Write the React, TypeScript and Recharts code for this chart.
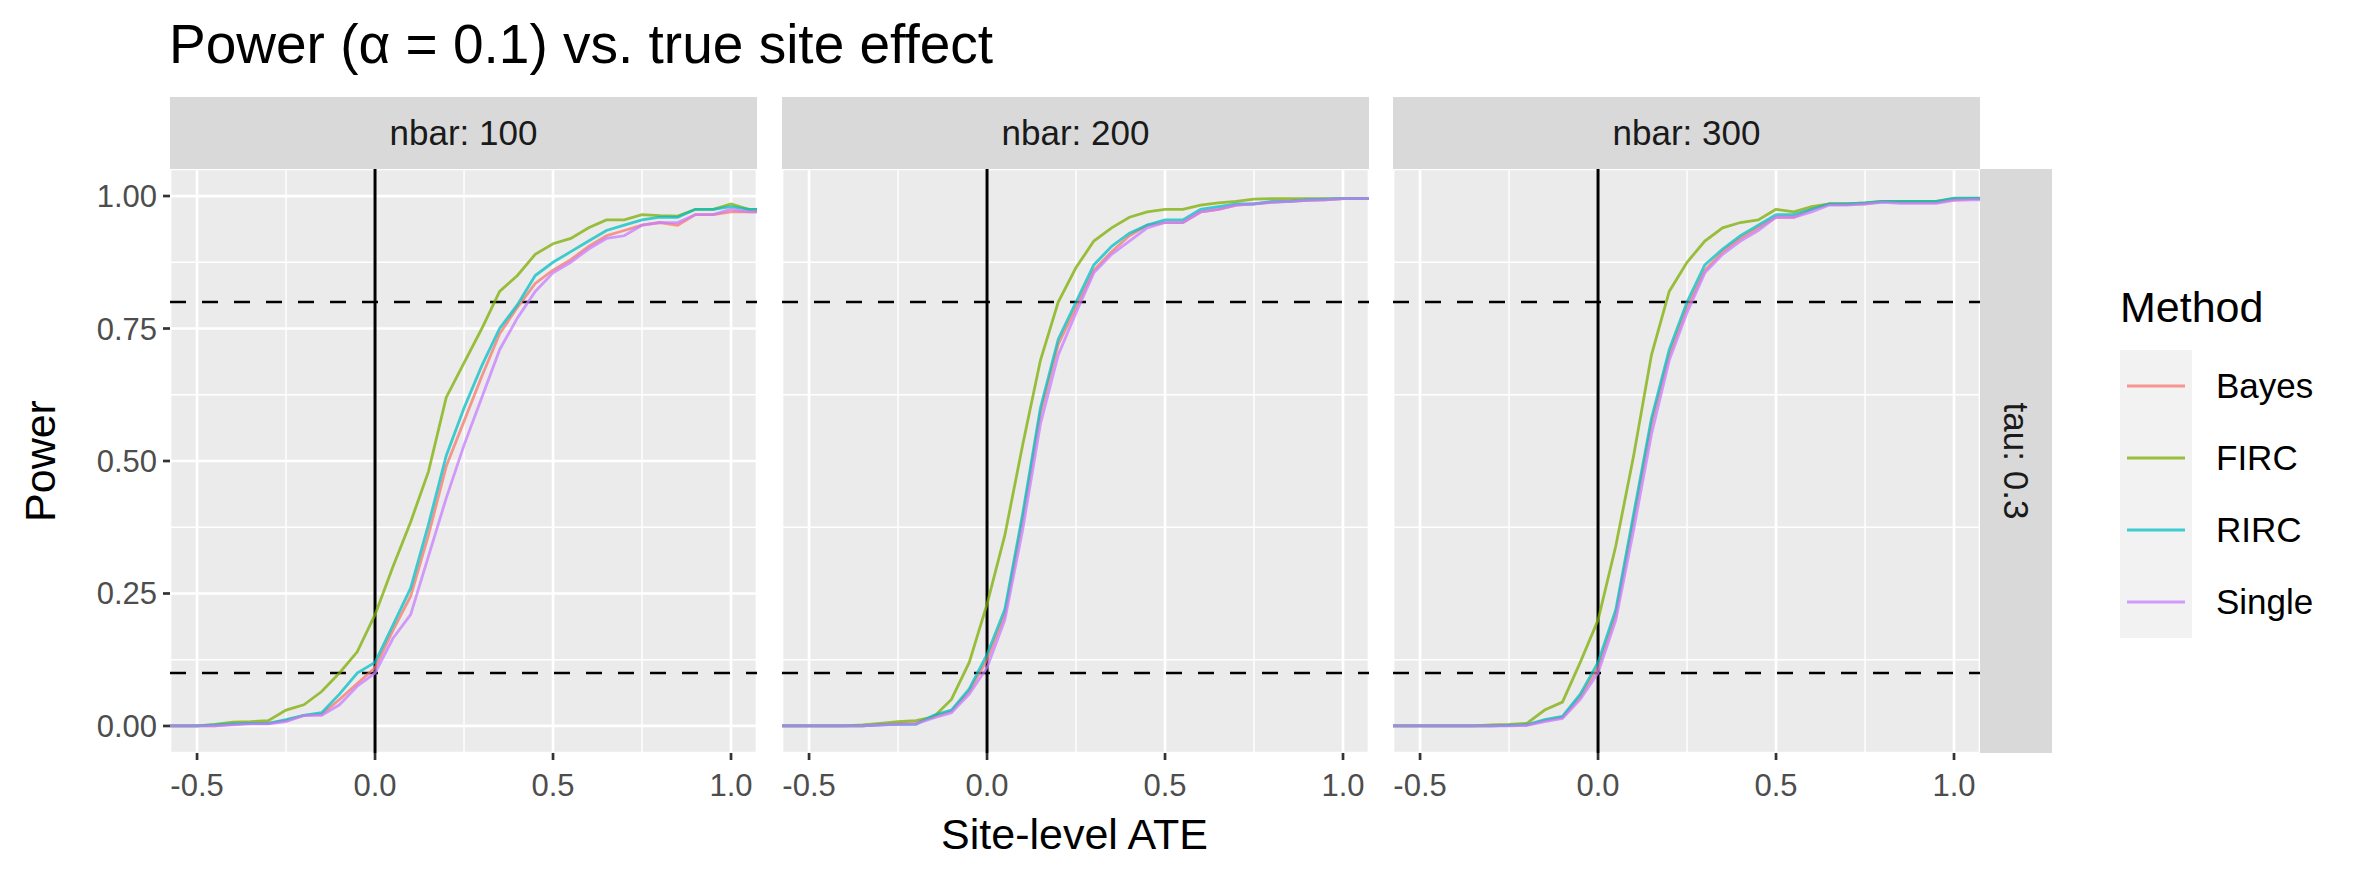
import React from 'react';
import { LineChart, Line, XAxis, YAxis, CartesianGrid, ReferenceLine } from 'recharts';

const ate = [-0.6, -0.55, -0.5, -0.45, -0.4, -0.35, -0.3, -0.25, -0.2, -0.15, -0.1, -0.05, 0, 0.05, 0.1, 0.15, 0.2, 0.25, 0.3, 0.35, 0.4, 0.45, 0.5, 0.55, 0.6, 0.65, 0.7, 0.75, 0.8, 0.85, 0.9, 0.95, 1.0, 1.05, 1.1];

const methods = ['Bayes', 'FIRC', 'RIRC', 'Single'];
const colors: Record<string, string> = { Bayes: '#F8766D', FIRC: '#7CAE00', RIRC: '#00BFC4', Single: '#C77CFF' };
const panelLabels = ['nbar: 100', 'nbar: 200', 'nbar: 300'];

// power per method, panel nbar 100
const bayes100 = [0, 0, 0, 0, 0.003, 0.005, 0.005, 0.01, 0.02, 0.022, 0.05, 0.08, 0.11, 0.18, 0.245, 0.36, 0.49, 0.575, 0.66, 0.74, 0.79, 0.835, 0.86, 0.88, 0.905, 0.925, 0.935, 0.945, 0.95, 0.945, 0.965, 0.965, 0.97, 0.97, 0.97];
const firc100 = [0, 0, 0, 0.003, 0.007, 0.008, 0.01, 0.03, 0.04, 0.065, 0.1, 0.14, 0.21, 0.3, 0.385, 0.48, 0.62, 0.685, 0.75, 0.82, 0.85, 0.89, 0.91, 0.92, 0.94, 0.955, 0.955, 0.965, 0.963, 0.962, 0.975, 0.975, 0.985, 0.975, 0.975];
const rirc100 = [0, 0, 0, 0.002, 0.004, 0.005, 0.005, 0.012, 0.02, 0.025, 0.06, 0.1, 0.12, 0.19, 0.26, 0.38, 0.51, 0.6, 0.68, 0.75, 0.795, 0.85, 0.875, 0.895, 0.915, 0.935, 0.945, 0.955, 0.96, 0.96, 0.975, 0.975, 0.98, 0.975, 0.975];
const single100 = [0, 0, 0, 0, 0.002, 0.004, 0.004, 0.008, 0.02, 0.02, 0.04, 0.075, 0.1, 0.165, 0.21, 0.32, 0.43, 0.53, 0.62, 0.71, 0.77, 0.82, 0.855, 0.875, 0.9, 0.92, 0.925, 0.945, 0.95, 0.95, 0.965, 0.965, 0.975, 0.97, 0.97];

// panel nbar 200
const bayes200 = [0, 0, 0, 0, 0, 0, 0.002, 0.004, 0.005, 0.018, 0.028, 0.065, 0.125, 0.21, 0.39, 0.59, 0.72, 0.79, 0.86, 0.895, 0.925, 0.945, 0.95, 0.95, 0.97, 0.975, 0.983, 0.985, 0.988, 0.99, 0.992, 0.993, 0.995, 0.995, 0.995];
const firc200 = [0, 0, 0, 0, 0, 0.002, 0.005, 0.008, 0.01, 0.017, 0.05, 0.12, 0.23, 0.36, 0.53, 0.69, 0.8, 0.865, 0.915, 0.94, 0.96, 0.97, 0.975, 0.975, 0.983, 0.987, 0.99, 0.994, 0.995, 0.995, 0.995, 0.995, 0.995, 0.995, 0.995];
const rirc200 = [0, 0, 0, 0, 0, 0, 0.002, 0.003, 0.003, 0.02, 0.03, 0.07, 0.135, 0.22, 0.4, 0.6, 0.73, 0.8, 0.87, 0.905, 0.93, 0.945, 0.955, 0.955, 0.975, 0.98, 0.985, 0.985, 0.99, 0.99, 0.993, 0.994, 0.995, 0.995, 0.995];
const single200 = [0, 0, 0, 0, 0, 0, 0.002, 0.003, 0.004, 0.015, 0.025, 0.06, 0.11, 0.2, 0.37, 0.57, 0.7, 0.78, 0.855, 0.89, 0.915, 0.94, 0.95, 0.95, 0.97, 0.975, 0.983, 0.985, 0.988, 0.99, 0.992, 0.993, 0.995, 0.995, 0.995];

// panel nbar 300
const bayes300 = [0, 0, 0, 0, 0, 0, 0, 0.001, 0.002, 0.01, 0.016, 0.055, 0.11, 0.21, 0.39, 0.57, 0.7, 0.79, 0.86, 0.895, 0.92, 0.94, 0.96, 0.96, 0.975, 0.985, 0.985, 0.985, 0.99, 0.988, 0.988, 0.988, 0.993, 0.995, 0.995];
const firc300 = [0, 0, 0, 0, 0, 0, 0.002, 0.003, 0.005, 0.03, 0.045, 0.12, 0.2, 0.34, 0.51, 0.7, 0.82, 0.875, 0.915, 0.94, 0.95, 0.955, 0.975, 0.97, 0.98, 0.985, 0.985, 0.987, 0.99, 0.99, 0.99, 0.99, 0.995, 0.995, 0.995];
const rirc300 = [0, 0, 0, 0, 0, 0, 0, 0.001, 0.002, 0.012, 0.018, 0.06, 0.12, 0.22, 0.4, 0.58, 0.71, 0.8, 0.87, 0.9, 0.925, 0.945, 0.965, 0.965, 0.975, 0.985, 0.985, 0.987, 0.99, 0.99, 0.99, 0.99, 0.996, 0.996, 0.996];
const single300 = [0, 0, 0, 0, 0, 0, 0, 0, 0.001, 0.008, 0.014, 0.05, 0.1, 0.2, 0.37, 0.55, 0.69, 0.78, 0.855, 0.89, 0.915, 0.935, 0.96, 0.96, 0.97, 0.983, 0.983, 0.985, 0.988, 0.986, 0.986, 0.986, 0.992, 0.993, 0.993];

const panelSeries = [
  { Bayes: bayes100, FIRC: firc100, RIRC: rirc100, Single: single100 },
  { Bayes: bayes200, FIRC: firc200, RIRC: rirc200, Single: single200 },
  { Bayes: bayes300, FIRC: firc300, RIRC: rirc300, Single: single300 },
];

const xTicks = [-0.5, 0, 0.5, 1.0];
const yTicks = [0, 0.25, 0.5, 0.75, 1.0];
const xMinor = [-0.25, 0.25, 0.75];
const yMinor = [0.125, 0.375, 0.625, 0.875];

const font = '"Liberation Sans", Arial, sans-serif';
const panelLefts = [170, 782, 1393];
const panelW = 587;
const plotTop = 169;
const plotH = 584;

function Panel({ idx }: { idx: number }) {
  const s = panelSeries[idx] as Record<string, number[]>;
  const data = ate.map((x, i) => ({ x, Bayes: s.Bayes[i], FIRC: s.FIRC[i], RIRC: s.RIRC[i], Single: s.Single[i] }));
  const yw = idx === 0 ? 110 : 0;
  return (
    <div style={{ position: 'absolute', left: panelLefts[idx] - yw, top: plotTop }}>
      <LineChart width={panelW + yw} height={plotH + 80} data={data} margin={{ top: 0, right: 0, left: 0, bottom: 0 }}>
        <CartesianGrid stroke="#ffffff" strokeWidth={2.7} fill="#ebebeb" fillOpacity={1} />
        <XAxis
          dataKey="x" type="number" domain={[-0.576, 1.073]} allowDataOverflow ticks={xTicks}
          tickFormatter={(v: number) => v.toFixed(1)} height={80}
          tick={{ fill: '#4d4d4d', fontSize: 31, fontFamily: font, dy: 12 }}
          axisLine={false} tickLine={{ stroke: '#333333', strokeWidth: 2.7 }} tickSize={7}
        />
        <YAxis
          type="number" domain={[-0.051, 1.051]} allowDataOverflow ticks={yTicks} width={yw}
          tickFormatter={(v: number) => v.toFixed(2)}
          tick={idx === 0 ? { fill: '#4d4d4d', fontSize: 31, fontFamily: font, dx: -4 } : false}
          axisLine={false} tickLine={idx === 0 ? { stroke: '#333333', strokeWidth: 2.7 } : false} tickSize={7}
        />
        {xMinor.map((v) => <ReferenceLine key={'xm' + v} x={v} stroke="#ffffff" strokeWidth={1.4} />)}
        {yMinor.map((v) => <ReferenceLine key={'ym' + v} y={v} stroke="#ffffff" strokeWidth={1.4} />)}
        <ReferenceLine x={0} stroke="#000000" strokeWidth={3} />
        <ReferenceLine y={0.1} stroke="#000000" strokeWidth={2.7} strokeDasharray="16 16" />
        <ReferenceLine y={0.8} stroke="#000000" strokeWidth={2.7} strokeDasharray="16 16" />
        {methods.map((m) => (
          <Line key={m} dataKey={m} stroke={colors[m]} strokeOpacity={0.75} strokeWidth={2.8} dot={false} type="linear" isAnimationActive={false} />
        ))}
      </LineChart>
      <div style={{ position: 'absolute', left: yw, top: -72, width: panelW, height: 72, background: '#d9d9d9', color: '#1a1a1a', fontSize: 35, fontFamily: font, display: 'flex', alignItems: 'center', justifyContent: 'center' }}>
        {panelLabels[idx]}
      </div>
    </div>
  );
}

export default function App() {
  return (
    <div style={{ position: 'fixed', left: 0, top: 0, width: 2362, height: 885, background: '#ffffff', fontFamily: font, overflow: 'hidden' }}>
      <div style={{ position: 'absolute', left: 169, top: 12, fontSize: 55, color: '#000' }}>Power (α = 0.1) vs. true site effect</div>
      {[0, 1, 2].map((i) => <Panel key={i} idx={i} />)}
      <div style={{ position: 'absolute', left: 1980, top: plotTop, width: 72, height: plotH, background: '#d9d9d9', display: 'flex', alignItems: 'center', justifyContent: 'center' }}>
        <div style={{ transform: 'rotate(90deg)', whiteSpace: 'nowrap', fontSize: 35, color: '#1a1a1a' }}>tau: 0.3</div>
      </div>
      <div style={{ position: 'absolute', left: 0, top: 461, width: 82, display: 'flex', justifyContent: 'center' }}>
        <div style={{ transform: 'translateY(-50%) rotate(-90deg)', fontSize: 43, whiteSpace: 'nowrap' }}>Power</div>
      </div>
      <div style={{ position: 'absolute', left: 170, width: 1809, top: 810, textAlign: 'center', fontSize: 43 }}>Site-level ATE</div>
      <div style={{ position: 'absolute', left: 2120, top: 283, fontSize: 43 }}>Method</div>
      <div style={{ position: 'absolute', left: 2120, top: 350, width: 72, height: 288, background: '#f2f2f2' }} />
      {methods.map((m, i) => (
        <div key={m} style={{ position: 'absolute', left: 2120, top: 350 + i * 72, height: 72, display: 'flex', alignItems: 'center' }}>
          <svg width={72} height={72}>
            <line x1={7} x2={65} y1={36} y2={36} stroke={colors[m]} strokeOpacity={0.75} strokeWidth={2.8} />
          </svg>
          <span style={{ marginLeft: 24, fontSize: 35 }}>{m}</span>
        </div>
      ))}
    </div>
  );
}
